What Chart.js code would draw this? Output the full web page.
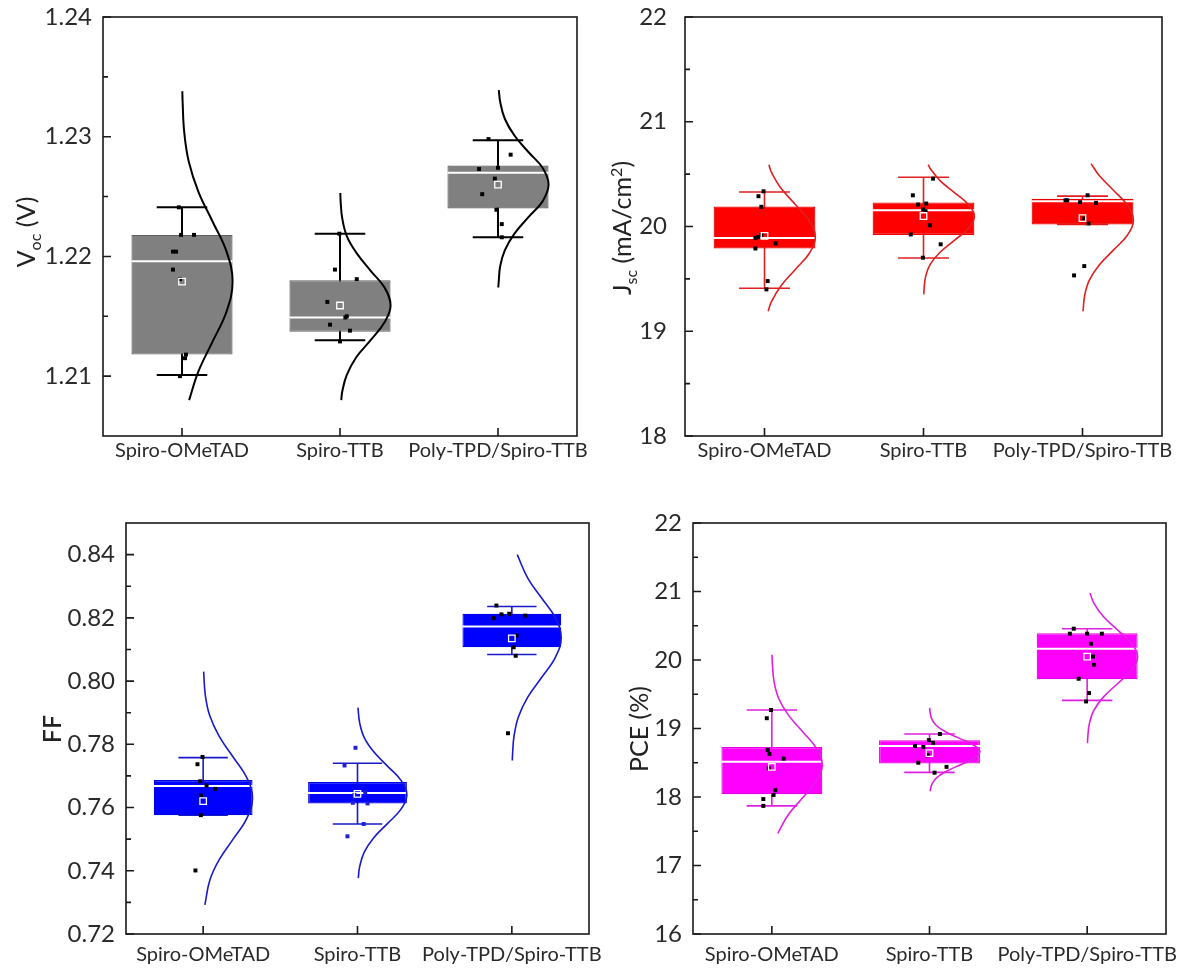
<!DOCTYPE html>
<html>
<head>
<meta charset="utf-8">
<script src="https://cdn.jsdelivr.net/npm/chart.js@4.4.1/dist/chart.umd.min.js"></script>
<style>
  body { margin: 0; background: #fff; }
  #page { position: relative; width: 1179px; height: 974px; overflow: hidden; background: #fff; }
  canvas { position: absolute; }
</style>
</head>
<body>
<div id="page">
  <canvas id="voc" width="590" height="480" style="left:0;top:0"></canvas>
  <canvas id="jsc" width="589" height="480" style="left:590px;top:0"></canvas>
  <canvas id="ff" width="605" height="494" style="left:0;top:480px"></canvas>
  <canvas id="pce" width="579" height="494" style="left:600px;top:480px"></canvas>
</div>
<script>
const groups = ["Spiro-OMeTAD", "Spiro-TTB", "Poly-TPD/Spiro-TTB"];

// ---- Voc (V) ----
const vocTicks = [1.21, 1.22, 1.23, 1.24];
const vocMinor = [1.215, 1.225, 1.235];
const vocQ1 = [1.2118, 1.2137, 1.2240];
const vocMedian = [1.2196, 1.2149, 1.2270];
const vocQ3 = [1.2218, 1.2180, 1.2276];
const vocMean = [1.2179, 1.2159, 1.2260];
const vocLow = [1.2101, 1.2130, 1.2216];
const vocHigh = [1.2241, 1.2219, 1.2297];
// [value, jitter]
const vocPoints = [
  [[1.2241,-0.02],[1.2218,-0.006],[1.2218,0.076],[1.2204,-0.057],[1.2204,-0.038],[1.2189,-0.057],[1.2181,-0.013],[1.2118,0.025],[1.2115,0.019],[1.2100,-0.013]],
  [[1.2219,-0.004],[1.2189,-0.032],[1.2181,0.106],[1.2162,-0.08],[1.2150,0.043],[1.2149,0.034],[1.2143,-0.063],[1.2138,0.063],[1.2129,0.0]],
  [[1.2298,-0.06],[1.2285,0.08],[1.2273,-0.12],[1.2274,0.0],[1.2265,-0.02],[1.2252,-0.10],[1.2239,-0.01],[1.2227,0.024],[1.2216,0.024]]
];
// distribution curves: [value, distance right of centre]
const vocCurves = [
  [[1.2338,0.002],[1.2329,0.004],[1.2304,0.014],[1.2279,0.043],[1.2254,0.104],[1.2229,0.194],[1.2204,0.282],[1.2179,0.32],[1.2154,0.282],[1.2129,0.194],[1.2104,0.104],[1.2080,0.045]],
  [[1.2253,0.002],[1.2246,0.004],[1.2232,0.014],[1.2217,0.043],[1.2203,0.104],[1.2188,0.194],[1.2174,0.282],[1.2159,0.32],[1.2145,0.282],[1.2130,0.194],[1.2116,0.104],[1.2101,0.043],[1.2087,0.014],[1.2080,0.008]],
  [[1.2339,0.005],[1.2329,0.014],[1.2315,0.043],[1.2301,0.104],[1.2287,0.194],[1.2274,0.282],[1.2260,0.32],[1.2246,0.282],[1.2233,0.194],[1.2219,0.104],[1.2205,0.043],[1.2192,0.014],[1.2178,0.004],[1.2174,0.002]]
];

// ---- Jsc (mA/cm2) ----
const jscTicks = [18, 19, 20, 21, 22];
const jscMinor = [18.5, 19.5, 20.5, 21.5];
const jscQ1 = [19.79, 19.92, 20.02];
const jscMedian = [19.89, 20.155, 20.24];
const jscQ3 = [20.19, 20.23, 20.265];
const jscMean = [19.91, 20.10, 20.08];
const jscLow = [19.41, 19.70, 20.02];
const jscHigh = [20.33, 20.47, 20.29];
const jscPoints = [
  [[20.336,-0.006],[20.289,-0.038],[20.188,-0.02],[19.892,-0.057],[19.90,-0.038],[19.92,-0.02],[19.79,-0.057],[19.838,0.07],[19.479,0.02],[19.40,0.012]],
  [[20.457,0.06],[20.298,-0.067],[20.21,-0.034],[20.219,0.017],[20.162,-0.002],[20.146,0.013],[20.012,0.04],[19.924,-0.08],[19.83,0.108],[19.702,-0.004]],
  [[20.25,-0.107],[20.25,-0.096],[20.298,0.032],[20.232,-0.015],[20.226,0.085],[20.076,0.011],[20.029,0.038],[19.622,0.011],[19.533,-0.053]]
];
const jscCurves = [
  [[20.59,0.028],[20.52,0.043],[20.365,0.104],[20.21,0.194],[20.055,0.282],[19.90,0.32],[19.745,0.282],[19.59,0.194],[19.435,0.104],[19.28,0.043],[19.19,0.023]],
  [[20.59,0.030],[20.552,0.043],[20.438,0.104],[20.324,0.194],[20.21,0.282],[20.096,0.32],[19.982,0.282],[19.868,0.194],[19.754,0.104],[19.64,0.043],[19.526,0.014],[19.412,0.004],[19.352,0.002]],
  [[20.6,0.054],[20.489,0.104],[20.346,0.194],[20.203,0.282],[20.06,0.32],[19.917,0.282],[19.774,0.194],[19.631,0.104],[19.488,0.043],[19.345,0.014],[19.202,0.004],[19.19,0.003]]
];

// ---- FF ----
const ffTicks = [0.72, 0.74, 0.76, 0.78, 0.80, 0.82, 0.84];
const ffMinor = [0.73, 0.75, 0.77, 0.79, 0.81, 0.83];
const ffQ1 = [0.7576, 0.7613, 0.8107];
const ffMedian = [0.7668, 0.7646, 0.8173];
const ffQ3 = [0.7687, 0.7681, 0.8213];
const ffMean = [0.7620, 0.7643, 0.8135];
const ffLow = [0.7576, 0.7548, 0.8084];
const ffHigh = [0.7758, 0.7740, 0.8236];
const ffPoints = [
  [[0.7760,-0.004],[0.7737,-0.037],[0.7683,-0.019],[0.7670,0.022],[0.7659,0.078],[0.7638,-0.015],[0.7576,-0.015],[0.7401,-0.05]],
  [[0.7789,-0.013],[0.7733,-0.084],[0.7648,0.05],[0.7640,-0.02],[0.7615,-0.03],[0.7613,0.065],[0.7548,0.04],[0.7509,-0.065]],
  [[0.8239,-0.10],[0.8199,-0.117],[0.8211,-0.067],[0.8213,-0.017],[0.8207,0.087],[0.8144,0.03],[0.8107,0.012],[0.8080,0.025],[0.7835,-0.025]]
];
const ffCurves = [
  [[0.803,0.003],[0.7955,0.014],[0.789,0.043],[0.7825,0.104],[0.776,0.194],[0.7695,0.282],[0.763,0.32],[0.7565,0.282],[0.750,0.194],[0.7435,0.104],[0.737,0.043],[0.7292,0.011]],
  [[0.7916,0.003],[0.7868,0.014],[0.7822,0.043],[0.7777,0.104],[0.7731,0.194],[0.7686,0.282],[0.764,0.32],[0.7595,0.282],[0.7549,0.194],[0.7504,0.104],[0.7458,0.043],[0.7413,0.014],[0.7377,0.005]],
  [[0.840,0.035],[0.8325,0.104],[0.8262,0.194],[0.8200,0.282],[0.8137,0.32],[0.8075,0.282],[0.8012,0.194],[0.7950,0.104],[0.7887,0.043],[0.7825,0.014],[0.7762,0.004],[0.7749,0.003]]
];

// ---- PCE (%) ----
const pceTicks = [16, 17, 18, 19, 20, 21, 22];
const pceMinor = [16.5, 17.5, 18.5, 19.5, 20.5, 21.5];
const pceQ1 = [18.04, 18.49, 19.72];
const pceMedian = [18.515, 18.745, 20.165];
const pceQ3 = [18.73, 18.83, 20.39];
const pceMean = [18.44, 18.64, 20.05];
const pceLow = [17.87, 18.36, 19.41];
const pceHigh = [19.27, 18.92, 20.457];
const pcePoints = [
  [[19.27,-0.005],[19.15,-0.032],[18.686,-0.026],[18.628,-0.015],[18.56,0.075],[18.42,-0.02],[18.10,0.022],[18.03,0.011],[17.97,-0.054],[17.87,-0.054]],
  [[18.92,0.066],[18.83,-0.004],[18.79,0.022],[18.745,-0.092],[18.73,-0.039],[18.61,-0.011],[18.50,-0.071],[18.44,0.108],[18.355,0.032]],
  [[20.457,-0.085],[20.384,-0.11],[20.384,0.0],[20.384,0.093],[20.238,0.024],[20.05,0.037],[19.93,0.044],[19.726,-0.054],[19.517,0.012],[19.395,-0.007]]
];
const pceCurves = [
  [[20.077,0.001],[19.928,0.004],[19.685,0.014],[19.442,0.043],[19.199,0.104],[18.956,0.194],[18.713,0.282],[18.47,0.32],[18.227,0.282],[17.984,0.194],[17.741,0.104],[17.47,0.038]],
  [[19.30,0.001],[19.236,0.004],[19.14,0.014],[19.044,0.043],[18.948,0.104],[18.852,0.194],[18.756,0.282],[18.66,0.32],[18.564,0.282],[18.468,0.194],[18.372,0.104],[18.276,0.043],[18.18,0.014],[18.084,0.004]],
  [[20.978,0.018],[20.827,0.043],[20.632,0.104],[20.437,0.194],[20.242,0.282],[20.047,0.32],[19.852,0.282],[19.657,0.194],[19.462,0.104],[19.267,0.043],[19.072,0.014],[18.877,0.004],[18.784,0.002]]
];

const FONT = "Lato, 'Open Sans', sans-serif";
const CAP = 0.16;   // half width of whisker caps (category units)
const HALF = 0.32;  // half width of the boxes

function buildDatasets(p) {
  const whiskers = [], medians = [], boxes = [], means = [];
  groups.forEach((g, i) => {
    whiskers.push(
      {x: i - CAP, y: p.high[i]}, {x: i + CAP, y: p.high[i]}, {x: i, y: null},
      {x: i, y: p.high[i]}, {x: i, y: p.low[i]}, {x: i, y: null},
      {x: i - CAP, y: p.low[i]}, {x: i + CAP, y: p.low[i]}, {x: i, y: null});
    medians.push({x: i - HALF, y: p.median[i]}, {x: i + HALF, y: p.median[i]}, {x: i, y: null});
    boxes.push({x: i, y: [p.q1[i], p.q3[i]]});
    means.push({x: i, y: p.mean[i]});
  });

  const sets = [
    {type: 'line', data: whiskers, borderColor: p.line, borderWidth: p.lw, pointRadius: 0, spanGaps: false, order: 5},
    {type: 'bar', data: boxes, backgroundColor: p.fill, borderColor: p.edge, borderWidth: 1.2,
     borderSkipped: false, barPercentage: 2 * HALF, categoryPercentage: 1, order: 4},
    {type: 'line', data: medians, borderColor: '#ffffff', borderWidth: 2, pointRadius: 0, spanGaps: false, order: 3}
  ];
  p.curves.forEach((c, i) => {
    sets.push({type: 'line', data: c.map(([v, o]) => ({x: i + o, y: v})), borderColor: p.line,
      borderWidth: p.lw, pointRadius: 0, tension: 0.4, order: 2});
  });
  p.points.forEach((pts, i) => {
    sets.push({type: 'scatter', data: pts.map(([v, o]) => ({x: i + o, y: v})), pointStyle: 'rect',
      pointRadius: 2.8, backgroundColor: p.dot[i], borderWidth: 0, order: 1});
  });
  sets.push({type: 'scatter', data: means, pointStyle: 'rect', pointRadius: 4.6,
    backgroundColor: 'rgba(0,0,0,0)', borderColor: '#ffffff', borderWidth: 1.3, order: 0});
  return sets;
}

// frame, inward ticks and the axis title (with sub/superscripts)
function decoPlugin(p) {
  return {
    id: 'deco',
    afterDatasetsDraw(chart) {
      const {ctx, chartArea: a, scales: {x, y}} = chart;
      ctx.save();
      ctx.strokeStyle = '#1a1a1a';
      ctx.lineWidth = 1.6;
      ctx.strokeRect(a.left, a.top, a.right - a.left, a.bottom - a.top);
      ctx.beginPath();
      p.ticks.forEach(v => {
        const py = y.getPixelForValue(v);
        ctx.moveTo(a.left, py); ctx.lineTo(a.left + 8, py);
      });
      p.minor.forEach(v => {
        const py = y.getPixelForValue(v);
        ctx.moveTo(a.left, py); ctx.lineTo(a.left + 5, py);
      });
      groups.forEach((g, i) => {
        const px = x.getPixelForValue(i);
        ctx.moveTo(px, a.bottom); ctx.lineTo(px, a.bottom - 8);
      });
      ctx.stroke();

      // axis title
      const size = p.titleSize;
      ctx.translate(p.titleX, p.titleY);
      ctx.rotate(-Math.PI / 2);
      ctx.fillStyle = '#222';
      ctx.textBaseline = 'alphabetic';
      ctx.textAlign = 'left';
      const fontFor = part => (p.titleWeight + ' ' + (part.sub || part.sup ? Math.round(size * 0.65) : size) + 'px ' + FONT);
      let total = 0;
      p.title.forEach(part => { ctx.font = fontFor(part); total += ctx.measureText(part.t).width; });
      let cx = -total / 2;
      const base = size * 0.36;
      p.title.forEach(part => {
        ctx.font = fontFor(part);
        const dy = part.sub ? size * 0.22 : part.sup ? -size * 0.38 : 0;
        ctx.fillText(part.t, cx, base + dy);
        cx += ctx.measureText(part.t).width;
      });
      ctx.restore();
    }
  };
}

function makeChart(id, p) {
  return new Chart(document.getElementById(id), {
    type: 'bar',
    data: {datasets: buildDatasets(p)},
    options: {
      responsive: false,
      animation: false,
      devicePixelRatio: 1,
      layout: {padding: {left: 0, top: p.top, right: p.right, bottom: 0}},
      plugins: {legend: {display: false}, tooltip: {enabled: false}},
      scales: {
        x: {
          type: 'linear', min: -0.5, max: 2.5, offset: false,
          grid: {display: false, drawTicks: false, offset: false},
          border: {display: false},
          afterBuildTicks: s => { s.ticks = groups.map((g, i) => ({value: i})); },
          afterFit: s => { s.height = p.xh; s.paddingLeft = 0; s.paddingRight = 0; },
          ticks: {autoSkip: false, maxRotation: 0, minRotation: 0, padding: p.xPad, color: '#2a2a2a',
            font: {family: FONT, size: 20}, callback: v => groups[Math.round(v)]}
        },
        y: {
          type: 'linear', min: p.min, max: p.max,
          grid: {display: false, drawTicks: false},
          border: {display: false},
          afterBuildTicks: s => { s.ticks = p.ticks.map(v => ({value: v})); },
          afterFit: s => { s.width = p.yw; s.paddingTop = 0; s.paddingBottom = 0; },
          ticks: {padding: p.labelGap, color: '#2a2a2a', font: {family: FONT, size: 24},
            callback: v => v.toFixed(p.decimals)}
        }
      }
    },
    plugins: [decoPlugin(p)]
  });
}

makeChart('voc', {
  min: 1.205, max: 1.24, ticks: vocTicks, minor: vocMinor, decimals: 2,
  q1: vocQ1, median: vocMedian, q3: vocQ3, mean: vocMean, low: vocLow, high: vocHigh,
  points: vocPoints, curves: vocCurves,
  fill: '#808080', edge: '#606060', line: '#000000', lw: 2, dot: ['#000', '#000', '#000'],
  top: 17, right: 13, yw: 103, xh: 44, xPad: 3, labelGap: 11,
  title: [{t: 'V'}, {t: 'oc', sub: true}, {t: ' (V)'}], titleX: 26, titleY: 232, titleSize: 25, titleWeight: 'normal'
});

makeChart('jsc', {
  min: 18, max: 22, ticks: jscTicks, minor: jscMinor, decimals: 0,
  q1: jscQ1, median: jscMedian, q3: jscQ3, mean: jscMean, low: jscLow, high: jscHigh,
  points: jscPoints, curves: jscCurves,
  fill: '#ff0000', edge: '#e60000', line: '#e02020', lw: 1.6, dot: ['#000', '#000', '#000'],
  top: 17, right: 17, yw: 95, xh: 44, xPad: 3, labelGap: 18,
  title: [{t: 'J'}, {t: 'sc', sub: true}, {t: ' (mA/cm'}, {t: '2', sup: true}, {t: ')'}],
  titleX: 32, titleY: 228, titleSize: 25, titleWeight: 'normal'
});

makeChart('ff', {
  min: 0.72, max: 0.85, ticks: ffTicks, minor: ffMinor, decimals: 2,
  q1: ffQ1, median: ffMedian, q3: ffQ3, mean: ffMean, low: ffLow, high: ffHigh,
  points: ffPoints, curves: ffCurves,
  fill: '#0000ff', edge: '#0000e6', line: '#1a1acc', lw: 1.6, dot: ['#000', '#1f1fd6', '#000'],
  top: 43, right: 16, yw: 126, xh: 40, xPad: 9, labelGap: 11,
  title: [{t: 'FF'}], titleX: 52, titleY: 249, titleSize: 25, titleWeight: '600'
});

makeChart('pce', {
  min: 16, max: 22, ticks: pceTicks, minor: pceMinor, decimals: 0,
  q1: pceQ1, median: pceMedian, q3: pceQ3, mean: pceMean, low: pceLow, high: pceHigh,
  points: pcePoints, curves: pceCurves,
  fill: '#ff00ff', edge: '#e600e6', line: '#e020e0', lw: 1.6, dot: ['#000', '#000', '#000'],
  top: 43, right: 13, yw: 93, xh: 40, xPad: 9, labelGap: 11,
  title: [{t: 'PCE (%)'}], titleX: 39, titleY: 249, titleSize: 25, titleWeight: 'normal'
});
</script>
</body>
</html>
